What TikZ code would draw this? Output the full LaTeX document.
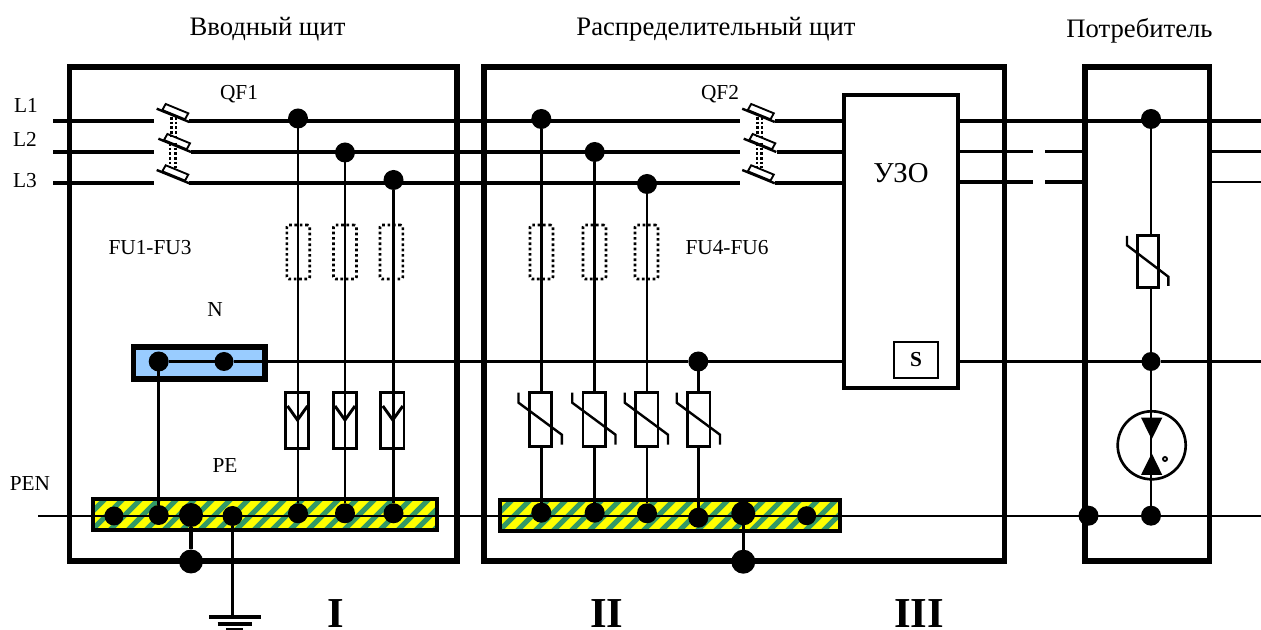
\documentclass[tikz,border=0pt]{standalone}
\usepackage{fontspec}
\setmainfont{Liberation Serif}
\definecolor{nblue}{HTML}{99CCFF}
\definecolor{pegreen}{HTML}{339966}
\definecolor{peyellow}{HTML}{FFFF00}
\newcommand{\fsz}[1]{\fontsize{#1pt}{#1pt}\selectfont}
\tikzset{
  wire/.style={line width=2.2pt,line cap=butt},
  thickwire/.style={line width=2.4pt},
  frame/.style={draw,line width=4.1pt,inner sep=0pt,outer sep=0pt},
  dotS/.style={circle,fill=black,inner sep=0pt,outer sep=0pt,minimum size=14.25pt},
  dotM/.style={circle,fill=black,inner sep=0pt,outer sep=0pt,minimum size=15pt},
  dotL/.style={circle,fill=black,inner sep=0pt,outer sep=0pt,minimum size=18pt},
  fuse/.style={draw,line width=2pt,dotted,rounded corners=1.5pt,inner sep=0pt,minimum width=17.2pt,minimum height=40.5pt},
  arrester/.style={draw,fill=white,line width=2.2pt,inner sep=0pt,outer sep=0pt,minimum width=17.5pt,minimum height=42.5pt},
  varistor/.style={draw,fill=white,line width=2pt,inner sep=0pt,outer sep=0pt,minimum width=16.8pt,minimum height=40.5pt},
  lbl/.style={inner sep=0pt,font=\fsz{16}},
  title/.style={inner sep=0pt,font=\fsz{20}},
  roman/.style={inner sep=0pt,font=\fsz{32}\bfseries},
  bar/.style={draw,line width=3pt,inner sep=0pt,outer sep=0pt,minimum height=23.25pt},
  mech/.style={line width=2pt,dash pattern=on 2pt off 1.5pt},
}
\newcommand{\qfblade}[2]{%
  \begin{scope}[shift={(#1,#2)}]
    \draw[line width=1.8pt] (156.7,108.7) -- (189.3,122);
    \draw[line width=1.4pt,fill=white] (165.7,104) -- (188.3,113.3) -- (185,119.3) -- (162.3,110) -- cycle;
  \end{scope}}
\newcommand{\varslash}[2]{%
  \draw[line width=1.8pt] (#1-22,#2-27) -- (#1-22,#2-17) -- (#1+21.3,#2+15) -- (#1+21.3,#2+25);}
\newcommand{\forksym}[1]{%
  \draw[line width=2.2pt] (#1-10,406) -- (#1,420) -- (#1+10,406);}
\begin{document}
\begin{tikzpicture}[x=.75pt,y=-.75pt]
\useasboundingbox (0,0) rectangle (1261,630);

% frames
\node[frame,minimum width=387.5*.75pt,minimum height=494*.75pt] (box1) at (263.25,314) {};
\node[frame,minimum width=520.5*.75pt,minimum height=494*.75pt] (box2) at (744.25,314) {};
\node[frame,minimum width=124.5*.75pt,minimum height=494*.75pt] (box3) at (1147.25,314) {};

% PE bars with stripes
\begin{scope}
  \clip (92.7,499) rectangle (436.7,530);
  \fill[peyellow] (92.7,499) rectangle (436.7,530);
  \foreach \i in {0,...,20} \draw[pegreen,line width=3.8pt] (70+18*\i,534) -- (108+18*\i,496);
\end{scope}
\node[bar,minimum width=344*.75pt] (pebar1) at (264.7,514.5) {};
\begin{scope}
  \clip (500.3,499.7) rectangle (839.7,530.7);
  \fill[peyellow] (500.3,499.7) rectangle (839.7,530.7);
  \foreach \i in {0,...,20} \draw[pegreen,line width=3.8pt] (478+18*\i,534) -- (516+18*\i,496);
\end{scope}
\node[bar,minimum width=339.4*.75pt] (pebar2) at (670,515.2) {};

% N bar and RCD
\node[draw,fill=nblue,line width=4.4pt,inner sep=0pt,outer sep=0pt,minimum width=131.5*.75pt,minimum height=32*.75pt] (nbar) at (199.25,363) {};
\node[draw,line width=3pt,inner sep=0pt,outer sep=0pt,minimum width=114*.75pt,minimum height=293*.75pt] (rcd) at (901,242) {};
\node[draw,line width=1.6pt,inner sep=0pt,outer sep=0pt,minimum width=44*.75pt,minimum height=36*.75pt,font=\fsz{16}\bfseries] (sbox) at (916,360) {S};

% free ends
\coordinate (l1a) at (53,121);   \coordinate (l1b) at (154,121);  \coordinate (l1c) at (189.3,121);
\coordinate (l2a) at (53,152);   \coordinate (l2b) at (154,152);  \coordinate (l2c) at (191,152);
\coordinate (l3a) at (53,183);   \coordinate (l3b) at (154,183);  \coordinate (l3c) at (189.3,183);
\coordinate (l1d) at (740,121);  \coordinate (l1e) at (775,121);
\coordinate (l2d) at (740,152);  \coordinate (l2e) at (777,152);
\coordinate (l3d) at (740,183);  \coordinate (l3e) at (775,183);
\coordinate (rcdL1) at (844,121); \coordinate (rcdL2) at (844,152); \coordinate (rcdL3) at (844,183); \coordinate (rcdN) at (844,361.5);
\coordinate (rcdR1) at (958,121); \coordinate (rcdR2) at (958,151.5); \coordinate (rcdR3) at (958,182); \coordinate (rcdRN) at (958,361.5);
\coordinate (outL1) at (1261,121); \coordinate (outL2) at (1261,151.5); \coordinate (outL3) at (1261,182); \coordinate (outN) at (1261,361.5);
\coordinate (gap2a) at (1033,151.5); \coordinate (gap2b) at (1045,151.5); \coordinate (gap3a) at (1033,182); \coordinate (gap3b) at (1045,182);
\coordinate (con2) at (1085,151.5); \coordinate (con3) at (1085,182);
\coordinate (con2r) at (1209,151.5); \coordinate (con3r) at (1209,182);
\coordinate (penL) at (38,516);  \coordinate (penR) at (1261,516);
\coordinate (gnd) at (232.5,617);
\coordinate (g1a) at (209,617); \coordinate (g1b) at (261,617);
\coordinate (g2a) at (217.7,624); \coordinate (g2b) at (252,624);
\coordinate (g3a) at (226,630); \coordinate (g3b) at (243,630);

% dots, section I
\node[dotM] (a1) at (298,118.5) {};
\node[dotM] (a2) at (345,152.5) {};
\node[dotM] (a3) at (393.5,180) {};
\node[dotM] (nd1) at (158.7,361.5) {};
\node[dotS] (nd2) at (224,361.5) {};
\node[dotS] (p1) at (114,516) {};
\node[dotM] (p2) at (158.7,515) {};
\node[dotL] (p3) at (191,515) {};
\node[dotM] (p4) at (232.5,516) {};
\node[dotM] (p5) at (298,513.3) {};
\node[dotM] (p6) at (345,513.3) {};
\node[dotM] (p7) at (393.5,513.3) {};
\node[dotL] (p8) at (191,561.5) {};

% dots, section II
\node[dotM] (b1) at (541.3,119) {};
\node[dotM] (b2) at (594.7,152) {};
\node[dotM] (b3) at (647,184) {};
\node[dotM] (b4) at (698.3,361.5) {};
\node[dotM] (q1) at (541.3,512.7) {};
\node[dotM] (q2) at (594.7,512.7) {};
\node[dotM] (q3) at (647,513.3) {};
\node[dotM] (q4) at (698.3,517.7) {};
\node[dotL] (q5) at (743.3,513.3) {};
\node[dotS] (q6) at (806.7,515.7) {};
\node[dotL] (q7) at (743.3,561.7) {};

% dots, section III
\node[dotM] (c1) at (1151,119) {};
\node[dotS] (c2) at (1151,361.5) {};
\node[dotM] (c3) at (1151,515.7) {};
\node[dotM] (c4) at (1088.5,515.7) {};

% fuses
\node[fuse] (fu1) at (298.3,252) {};
\node[fuse] (fu2) at (345,252) {};
\node[fuse] (fu3) at (391.4,252) {};
\node[fuse] (fu4) at (541.5,252) {};
\node[fuse] (fu5) at (594.5,252) {};
\node[fuse] (fu6) at (646.5,252) {};

% arresters
\node[arrester] (ar1) at (297,420.5) {};
\node[arrester] (ar2) at (344.7,420.5) {};
\node[arrester] (ar3) at (392.3,420.5) {};

% varistors
\node[varistor] (v1) at (540.5,419.7) {};
\node[varistor] (v2) at (594.2,419.7) {};
\node[varistor] (v3) at (646.7,419.7) {};
\node[varistor] (v4) at (698.7,419.7) {};
\node[varistor,minimum width=16pt,minimum height=38.7pt] (v5) at (1148,261.5) {};

% voltage indicator
\node[draw,circle,line width=2pt,inner sep=0pt,outer sep=0pt,minimum size=68*.75pt] (pv) at (1151.7,445.3) {};
\node[circle,draw,line width=1.4pt,inner sep=0pt,minimum size=4*.75pt] (pvdot) at (1165,459) {};
\coordinate (tda) at (1141,417.7); \coordinate (tdb) at (1162.3,417.7); \coordinate (tdc) at (1151.7,439.3);
\coordinate (tua) at (1141,475);   \coordinate (tub) at (1162.3,475);   \coordinate (tuc) at (1151.7,453.3);

% phase wires
\draw[thickwire] (l1a) -- (l1b);
\draw[thickwire] (l2a) -- (l2b);
\draw[thickwire] (l3a) -- (l3b);
\draw[thickwire] (l1c) -- (l1d);
\draw[thickwire] (l2c) -- (l2d);
\draw[thickwire] (l3c) -- (l3d);
\draw[thickwire] (l1e) -- (rcdL1);
\draw[thickwire] (l2e) -- (rcdL2);
\draw[thickwire] (l3e) -- (rcdL3);
\draw[thickwire] (rcdR1) -- (outL1);
\draw[thickwire] (rcdR2) -- (gap2a);
\draw[thickwire] (rcdR3) -- (gap3a);
\draw[thickwire] (gap2b) -- (con2);
\draw[thickwire] (gap3b) -- (con3);
\draw[wire] (con2r) -- (outL2);
\draw[wire] (con3r) -- (outL3);

% neutral
\draw[wire] (nd1) -- (nd2);
\draw[wire] (nd2) -- (b4);
\draw[thickwire] (b4) -- (rcdN);
\draw[thickwire] (rcdRN) -- (c2);
\draw[wire] (c2) -- (outN);
\draw[wire] (nd1) -- (p2);

% PEN
\draw[wire] (penL) -- (penR);

% section I branches
\draw[wire] (a1) -- (p5);
\draw[wire] (a2) -- (p6);
\draw[wire] (a3) -- (p7);
\draw[thickwire] (p3) -- (p8);
\draw[wire] (p4) -- (gnd);
\draw[thickwire] (g1a) -- (g1b);
\draw[thickwire] (g2a) -- (g2b);
\draw[thickwire] (g3a) -- (g3b);
\forksym{297.5}
\forksym{345}
\forksym{392.8}

% section II branches
\draw[wire] (b1) -- (b1 |- v1.north);
\draw[wire] (b2) -- (b2 |- v2.north);
\draw[wire] (b3) -- (b3 |- v3.north);
\draw[wire] (b4) -- (b4 |- v4.north);
\draw[wire] (b1 |- v1.south) -- (q1);
\draw[wire] (b2 |- v2.south) -- (q2);
\draw[wire] (b3 |- v3.south) -- (q3);
\draw[wire] (b4 |- v4.south) -- (q4);
\draw[thickwire] (q5) -- (q7);
\varslash{540.5}{419.7}
\varslash{594.2}{419.7}
\varslash{646.7}{419.7}
\varslash{698.7}{419.7}

% section III branches
\draw[wire] (c1) -- (c1 |- v5.north);
\draw[wire] (c1 |- v5.south) -- (c2);
\draw[wire] (c2) -- (c3);
\draw[line width=1.8pt] (1127,236) -- (1127,245.3) -- (1168.3,276.7) -- (1168.3,286);
\fill (tda) -- (tdb) -- (tdc) -- cycle;
\fill (tua) -- (tub) -- (tuc) -- cycle;

% breakers
\qfblade{0}{0}
\qfblade{1.7}{30}
\qfblade{0}{61.3}
\qfblade{585.5}{0}
\qfblade{587}{30}
\qfblade{585.5}{61.3}
\draw[mech] (171.3,117) -- (171.3,137);
\draw[mech] (176,117) -- (176,137);
\draw[mech] (170,143) -- (170,168);
\draw[mech] (175.3,143) -- (175.3,168);
\draw[mech] (757.5,117) -- (757.5,137);
\draw[mech] (762,117) -- (762,137);
\draw[mech] (757,143) -- (757,168);
\draw[mech] (761.5,143) -- (761.5,168);

% labels
\node[title] (t1) at (267.5,29) {Вводный щит};
\node[title] (t2) at (716,29) {Распределительный щит};
\node[title] (t3) at (1139.5,31) {Потребитель};
\node[lbl] (tl1) at (26,105) {L1};
\node[lbl] (tl2) at (25,139) {L2};
\node[lbl] (tl3) at (25,181) {L3};
\node[lbl] (tq1) at (239,94) {QF1};
\node[lbl] (tq2) at (720,94) {QF2};
\node[lbl] (tf1) at (150,248) {FU1-FU3};
\node[lbl] (tf2) at (727,248) {FU4-FU6};
\node[lbl] (tn) at (215,310) {N};
\node[lbl] (tpe) at (225,466) {PE};
\node[lbl] (tpen) at (30,484) {PEN};
\node[inner sep=0pt,font=\fsz{21.6}] (tuzo) at (901,173) {УЗО};
\node[roman] (r1) at (336,614) {I};
\node[roman] (r2) at (607,614) {II};
\node[roman] (r3) at (919,614) {III};
\end{tikzpicture}
\end{document}
